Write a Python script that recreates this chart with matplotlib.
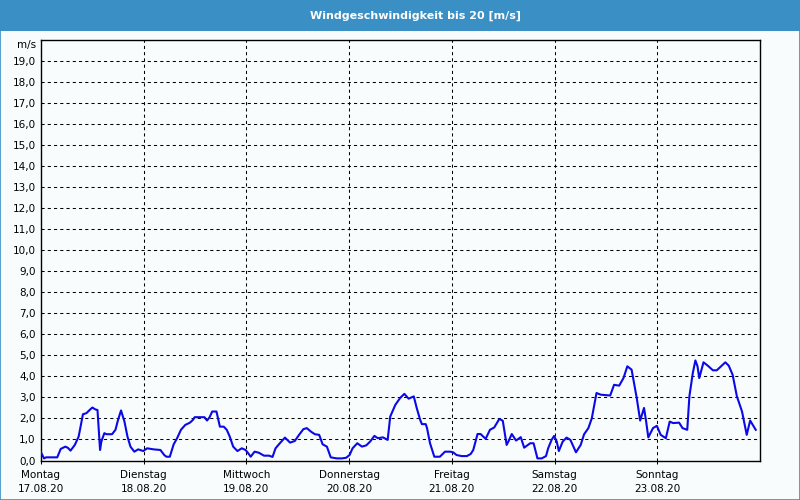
import matplotlib
matplotlib.use("Agg")
import matplotlib.pyplot as plt
from matplotlib.patches import Rectangle

# Stunden seit Montag 00:00 und Windgeschwindigkeit in m/s
stunden = [0.0, 0.7, 1.2, 3.8, 4.6, 5.7, 6.3, 6.9, 7.9, 8.8, 9.8, 10.6, 11.4, 12.0, 12.7, 13.2,
           13.8, 14.1, 14.8, 15.3, 16.6, 17.4, 18.0, 18.7, 19.5, 20.2, 20.9, 21.8, 22.7, 23.9,
           24.8, 26.3, 27.9, 28.8, 29.3, 30.1, 30.6, 31.0, 31.8, 32.7, 33.7, 34.8, 35.5, 35.9,
           38.2, 38.8, 39.4, 40.0, 41.0, 41.8, 42.7, 43.4, 44.1, 44.9, 45.9, 46.9, 47.8, 48.4,
           49.0, 49.9, 50.9, 52.1, 53.3, 54.1, 54.8, 55.8, 57.0, 58.2, 59.3, 60.3, 61.3, 62.1,
           63.1, 64.0, 65.0, 65.8, 66.8, 67.7, 69.1, 70.3, 71.3, 72.1, 72.8, 73.9, 75.0, 76.0,
           76.9, 77.9, 78.7, 79.9, 81.0, 81.6, 82.8, 83.9, 84.9, 85.9, 87.1, 87.8, 88.6, 89.0,
           89.9, 90.2, 90.9, 91.9, 93.2, 94.4, 95.6, 96.3, 97.1, 98.3, 99.5, 100.4, 101.0, 102.0,
           102.7, 103.9, 104.9, 105.9, 107.1, 107.9, 108.8, 109.2, 110.0, 111.0, 112.1, 112.9,
           114.3, 115.1, 116.0, 117.0, 118.0, 118.5, 119.3, 119.9, 120.5, 121.0, 121.9, 122.8,
           123.7, 125.0, 126.1, 126.9, 127.9, 128.7, 129.8, 130.8, 133.0, 133.9, 135.1, 136.1,
           137.0, 138.0, 139.2, 140.0, 140.9, 141.4, 141.9, 143.0, 143.9, 144.8, 146.0, 146.9,
           147.7, 149.1, 149.9, 151.0, 151.5, 152.3, 152.9, 153.4, 153.8, 154.8, 155.8, 157.0,
           157.9, 158.9, 159.9, 160.7, 161.6, 162.6, 163.8, 164.9, 165.7, 167.0]
wind = [0.39, 0.10, 0.15, 0.15, 0.55, 0.66, 0.60, 0.47, 0.74, 1.14, 2.20, 2.25, 2.41, 2.52, 2.43, 2.40,
        0.50, 0.90, 1.30, 1.25, 1.25, 1.46, 1.93, 2.38, 1.85, 1.14, 0.66, 0.42, 0.53, 0.45,
        0.58, 0.53, 0.50, 0.26, 0.18, 0.18, 0.50, 0.77, 1.06, 1.46, 1.69, 1.80, 1.93, 2.06,
        2.06, 1.90, 2.06, 2.33, 2.33, 1.61, 1.61, 1.46, 1.14, 0.66, 0.45, 0.58, 0.50, 0.35,
        0.18, 0.42, 0.37, 0.23, 0.23, 0.17, 0.58, 0.82, 1.09, 0.85, 0.93, 1.22, 1.49, 1.54,
        1.37, 1.25, 1.22, 0.77, 0.66, 0.15, 0.10, 0.10, 0.13, 0.26, 0.58, 0.82, 0.66, 0.72,
        0.90, 1.17, 1.06, 1.10, 0.98, 2.09, 2.65, 2.97, 3.17, 2.94, 3.05, 2.49, 1.93, 1.73,
        1.73, 1.54, 0.82, 0.18, 0.18, 0.42, 0.42, 0.39, 0.26, 0.21, 0.21, 0.31, 0.50, 1.26,
        1.26, 1.03, 1.46, 1.57, 1.98, 1.89, 0.74, 0.90, 1.26, 0.95, 1.11, 0.61,
        0.82, 0.82, 0.10, 0.10, 0.21, 0.58, 0.98, 1.17, 0.90, 0.45, 0.90, 1.09,
        0.98, 0.39, 0.74, 1.25, 1.54, 2.01, 3.21, 3.13, 3.09, 3.60, 3.56, 3.92,
        4.48, 4.32, 2.97, 1.90, 2.50, 1.85, 1.10, 1.54, 1.65, 1.22, 1.06, 1.85,
        1.78, 1.80, 1.54, 1.46, 3.05, 4.16, 4.76, 4.48, 3.92, 4.67, 4.51, 4.29,
        4.29, 4.48, 4.67, 4.51, 4.08, 3.05, 2.33, 1.22, 1.90, 1.46]

tage = ["Montag", "Dienstag", "Mittwoch", "Donnerstag", "Freitag", "Samstag", "Sonntag"]
daten = ["17.08.20", "18.08.20", "19.08.20", "20.08.20", "21.08.20", "22.08.20", "23.08.20"]
y_werte = list(range(0, 20))

bg = "#f9fcfc"
blau = "#3a8fc4"

fig = plt.figure(figsize=(8, 5), dpi=100, facecolor=bg)
ax = fig.add_axes([41 / 800, 1 - 460.5 / 500, 719 / 800, 420.5 / 500])
ax.set_facecolor(bg)

# Titelleiste und Rahmen
fig.patches.append(Rectangle((0, 1 - 31 / 500), 1, 31 / 500, transform=fig.transFigure,
                             facecolor=blau, edgecolor="none", zorder=0))
fig.patches.append(Rectangle((0.0006, 0.001), 0.9988, 0.998, transform=fig.transFigure,
                             facecolor="none", edgecolor=blau, linewidth=1.2, zorder=0))
fig.text(415 / 800, 1 - 15.5 / 500, "Windgeschwindigkeit bis 20 [m/s]", color="white",
         fontsize=8, fontweight="bold", ha="center", va="center")

tage_x = [s / 24 for s in stunden]
ax.plot(tage_x, wind, color="#0a0ae6", linewidth=1.5, zorder=3)

ax.set_xlim(0, 7)
ax.set_ylim(0, 20)

for v in y_werte[1:]:
    ax.axhline(v, color="black", linewidth=0.75, linestyle=(0, (3, 3)), zorder=1)
for d in range(1, 7):
    ax.axvline(d, color="black", linewidth=0.75, linestyle=(0, (3, 3)), zorder=1)

ax.set_yticks(y_werte)
ax.set_yticklabels([f"{v},0" for v in y_werte], fontsize=7.5)
ax.tick_params(axis="y", length=0, pad=4)
ax.set_xticks(range(7))
ax.set_xticklabels([f"{t}\n{d}" for t, d in zip(tage, daten)], fontsize=7.5, linespacing=1.5)
ax.tick_params(axis="x", length=2.2, width=0.75, pad=4.5)

for s in ax.spines.values():
    s.set_linewidth(1.0)
    s.set_color("black")

ax.text(-5 / 719, 19.75, "m/s", transform=ax.get_yaxis_transform(), fontsize=7.5,
        ha="right", va="center")

fig.savefig("out.png", dpi=100, facecolor=bg)
